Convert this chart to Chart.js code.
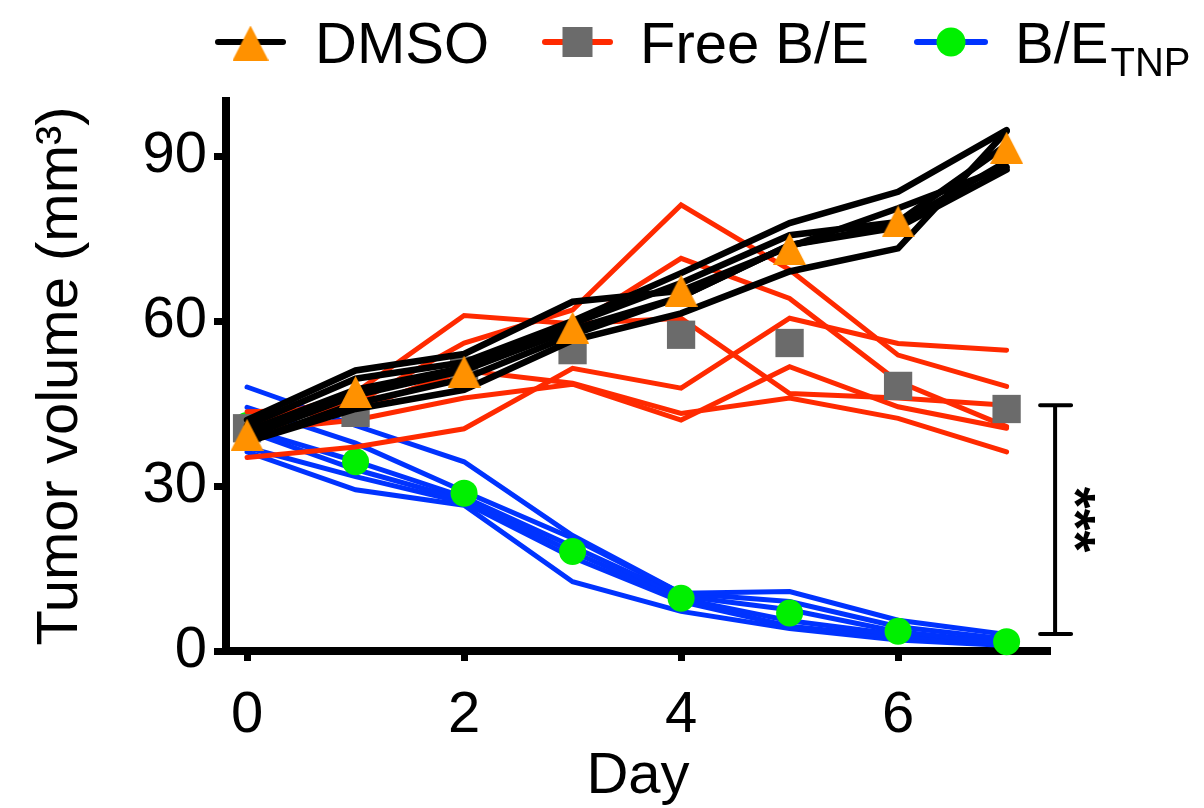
<!DOCTYPE html>
<html>
<head>
<meta charset="utf-8">
<script src="https://cdn.jsdelivr.net/npm/chart.js@4.4.1/dist/chart.umd.min.js"></script>
<style>
  html, body { margin: 0; padding: 0; background: #fff; }
  #wrap { width: 1204px; height: 808px; }
</style>
</head>
<body>
<div id="wrap"><canvas id="tumorChart" width="1204" height="808"></canvas></div>
<script>
// days and axis ticks
const days = [0, 1, 2, 3, 4, 5, 6, 7];
const xTicks = [0, 2, 4, 6];
const yTicks = [0, 30, 60, 90];

// DMSO, one line per mouse
const dmso1 = [42, 51, 54, 63.5, 65.5, 73.5, 80.5, 88];
const dmso2 = [41, 49.5, 52.5, 60, 68.7, 77.8, 83.5, 94.7];
const dmso3 = [40, 47.5, 51.5, 59.5, 66.9, 75.6, 78, 92];
const dmso4 = [39, 46.5, 51, 58.5, 64.4, 73.8, 77.5, 89];
const dmso5 = [38, 45, 49.5, 57.5, 64.4, 73.8, 77, 87.5];
const dmso6 = [38, 44, 47.5, 56.5, 61.4, 69, 73.2, 94.5];
const dmsoMean = [39.3, 47.1, 50.8, 58.8, 65.5, 73.1, 78.1, 91.5];

// Free B/E
const free1 = [41, 45, 56, 62, 81.1, 69.3, 53.8, 48.1];
const free2 = [42, 44, 51, 59, 71.4, 64.1, 49, 40.8];
const free3 = [35.2, 37.1, 40.4, 51.4, 47.8, 60.5, 55.9, 54.7];
const free4 = [40, 42, 46, 48.5, 42, 51.7, 44.4, 40.5];
const free5 = [41, 47, 61, 59.5, 60.5, 46.8, 46, 44.7];
const free6 = [43.5, 44, 51, 48.7, 43.2, 46, 42.3, 36.2];
const freeMean = [40.5, 43.3, 51, 54.7, 57.5, 56, 48.2, 44];

// B/E TNP
const tnp1 = [48, 41, 34.4, 21, 10.5, 10.8, 5.6, 3];
const tnp2 = [44.3, 37.8, 29, 20.5, 10.5, 9, 4.4, 2.2];
const tnp3 = [40.4, 34.5, 28, 19, 10, 7.5, 3.5, 1.5];
const tnp4 = [40, 33, 27.5, 18, 9.5, 5.5, 3, 1.2];
const tnp5 = [37, 31.7, 27, 17, 9, 4.5, 2.5, 1.2];
const tnp6 = [36.2, 29.3, 26.5, 12.6, 7.2, 4.1, 2, 1.0];
const tnpMean = [41, 34.4, 28.7, 18.1, 9.6, 6.9, 3.6, 1.7];

// significance bracket (day 7, Free vs TNP)
const sigX = 7.447;
const sigTop = 44.7;
const sigBottom = 3.1;
const sigLabel = "***";

const xTitle = "Day";
const yTitle = "Tumor volume (mm³)";

const FONT = '"Liberation Sans", Arial, sans-serif';
const BLACK = "#000000", RED = "#FF2A00", BLUE = "#0033FF";
const ORANGE = "#FF9100", GRAY = "#6B6B6B", GREEN = "#00F000";

function pts(vals) {
  return days.map((d, i) => ({ x: d, y: vals[i] }));
}

function makeTriangle(w, h, color) {
  const c = document.createElement("canvas");
  c.width = w; c.height = h;
  const g = c.getContext("2d");
  g.fillStyle = color;
  g.beginPath();
  g.moveTo(w / 2, 0); g.lineTo(w, h); g.lineTo(0, h);
  g.closePath(); g.fill();
  return c;
}
const triImg = makeTriangle(33, 32, ORANGE);
const triLegend = makeTriangle(36, 35, ORANGE);

function lineSet(vals, color, width, order) {
  return {
    data: pts(vals), borderColor: color, borderWidth: width,
    pointRadius: 0, fill: false, tension: 0, order: order, clip: false,
    borderCapStyle: "round", borderJoinStyle: "miter"
  };
}
function markSet(vals, style, radius, color, order) {
  return {
    data: pts(vals), showLine: false, pointStyle: style, pointRadius: radius,
    pointBackgroundColor: color, pointBorderColor: color, pointBorderWidth: 0,
    order: order, clip: false
  };
}

const datasets = [
  markSet(dmsoMean, triImg, 16, ORANGE, 0),
  ...[dmso1, dmso2, dmso3, dmso4, dmso5, dmso6].map(v => lineSet(v, BLACK, 6.5, 1)),
  markSet(freeMean, "rect", 20, GRAY, 2),
  ...[free1, free2, free3, free4, free5, free6].map(v => lineSet(v, RED, 5, 3)),
  markSet(tnpMean, "circle", 13.5, GREEN, 4),
  ...[tnp1, tnp2, tnp3, tnp4, tnp5, tnp6].map(v => lineSet(v, BLUE, 5, 5)),
];

// legend with subscript + significance bracket
const overlay = {
  id: "overlay",
  afterDraw(chart) {
    const ctx = chart.ctx;
    const xs = chart.scales.x, ys = chart.scales.y;
    ctx.save();

    const items = [
      { color: BLACK, mark: "tri", x0: 218, x1: 283, tx: 315, label: "DMSO" },
      { color: RED, mark: "rect", x0: 545, x1: 610, tx: 640, label: "Free B/E" },
      { color: BLUE, mark: "circle", x0: 917, x1: 985, tx: 1015, label: "B/E", sub: "TNP" },
    ];
    const ly = 42;
    items.forEach(it => {
      ctx.strokeStyle = it.color;
      ctx.lineWidth = 6;
      ctx.lineCap = "round";
      ctx.beginPath(); ctx.moveTo(it.x0, ly); ctx.lineTo(it.x1, ly); ctx.stroke();
      const cx = (it.x0 + it.x1) / 2;
      if (it.mark === "tri") {
        ctx.drawImage(triLegend, cx - triLegend.width / 2, ly + 1 - triLegend.height / 2);
      } else if (it.mark === "rect") {
        ctx.fillStyle = GRAY; ctx.fillRect(cx - 15, ly - 15, 30, 30);
      } else {
        ctx.fillStyle = GREEN; ctx.beginPath(); ctx.arc(cx, ly, 14.5, 0, Math.PI * 2); ctx.fill();
      }
      ctx.fillStyle = "#000";
      ctx.font = "58px " + FONT;
      ctx.textAlign = "left"; ctx.textBaseline = "alphabetic";
      ctx.fillText(it.label, it.tx, 63);
      if (it.sub) {
        const w = ctx.measureText(it.label).width;
        ctx.font = "40px " + FONT;
        ctx.fillText(it.sub, it.tx + w + 2, 76);
      }
    });

    const bx = xs.getPixelForValue(sigX);
    const yT = ys.getPixelForValue(sigTop), yB = ys.getPixelForValue(sigBottom);
    ctx.strokeStyle = "#000"; ctx.lineWidth = 4; ctx.lineCap = "round";
    ctx.beginPath();
    ctx.moveTo(bx, yT); ctx.lineTo(bx, yB);
    ctx.moveTo(bx - 15, yT); ctx.lineTo(bx + 16, yT);
    ctx.moveTo(bx - 15, yB); ctx.lineTo(bx + 16, yB);
    ctx.stroke();
    ctx.translate(bx + 17, (yT + yB) / 2);
    ctx.rotate(Math.PI / 2);
    ctx.font = "bold 56px " + FONT;
    ctx.fillStyle = "#000"; ctx.textAlign = "center"; ctx.textBaseline = "middle";
    ctx.fillText(sigLabel, 0, 0);
    ctx.restore();
  }
};

Chart.defaults.font.family = FONT;
Chart.defaults.color = "#000";

new Chart(document.getElementById("tumorChart"), {
  type: "line",
  data: { datasets },
  options: {
    responsive: false,
    animation: false,
    events: [],
    layout: { padding: { top: 101, right: 154, bottom: 0, left: 22 } },
    plugins: { legend: { display: false }, tooltip: { enabled: false } },
    scales: {
      x: {
        type: "linear", min: -0.194, max: 7.4,
        afterBuildTicks: s => { s.ticks = xTicks.map(v => ({ value: v })); },
        afterFit: s => { s.height = 157; },
        ticks: { font: { size: 58 }, color: "#000", padding: 20, autoSkip: false, maxRotation: 0 },
        grid: { drawOnChartArea: false, drawTicks: true, tickLength: 10, tickWidth: 7, tickColor: "#000" },
        border: { display: true, color: "#000", width: 8 },
        title: { display: true, text: xTitle, font: { size: 58 }, color: "#000", padding: { top: 0, bottom: -4 } }
      },
      y: {
        type: "linear", min: 0, max: 100,
        afterBuildTicks: s => { s.ticks = yTicks.map(v => ({ value: v })); },
        afterFit: s => { s.width = 204; },
        ticks: { font: { size: 58 }, color: "#000", padding: 7 },
        grid: { drawOnChartArea: false, drawTicks: true, tickLength: 12, tickWidth: 7, tickColor: "#000" },
        border: { display: true, color: "#000", width: 8 },
        title: { display: true, text: yTitle, font: { size: 58 }, color: "#000", padding: { top: 4, bottom: 0 } }
      }
    }
  },
  plugins: [overlay]
});
</script>
</body>
</html>
